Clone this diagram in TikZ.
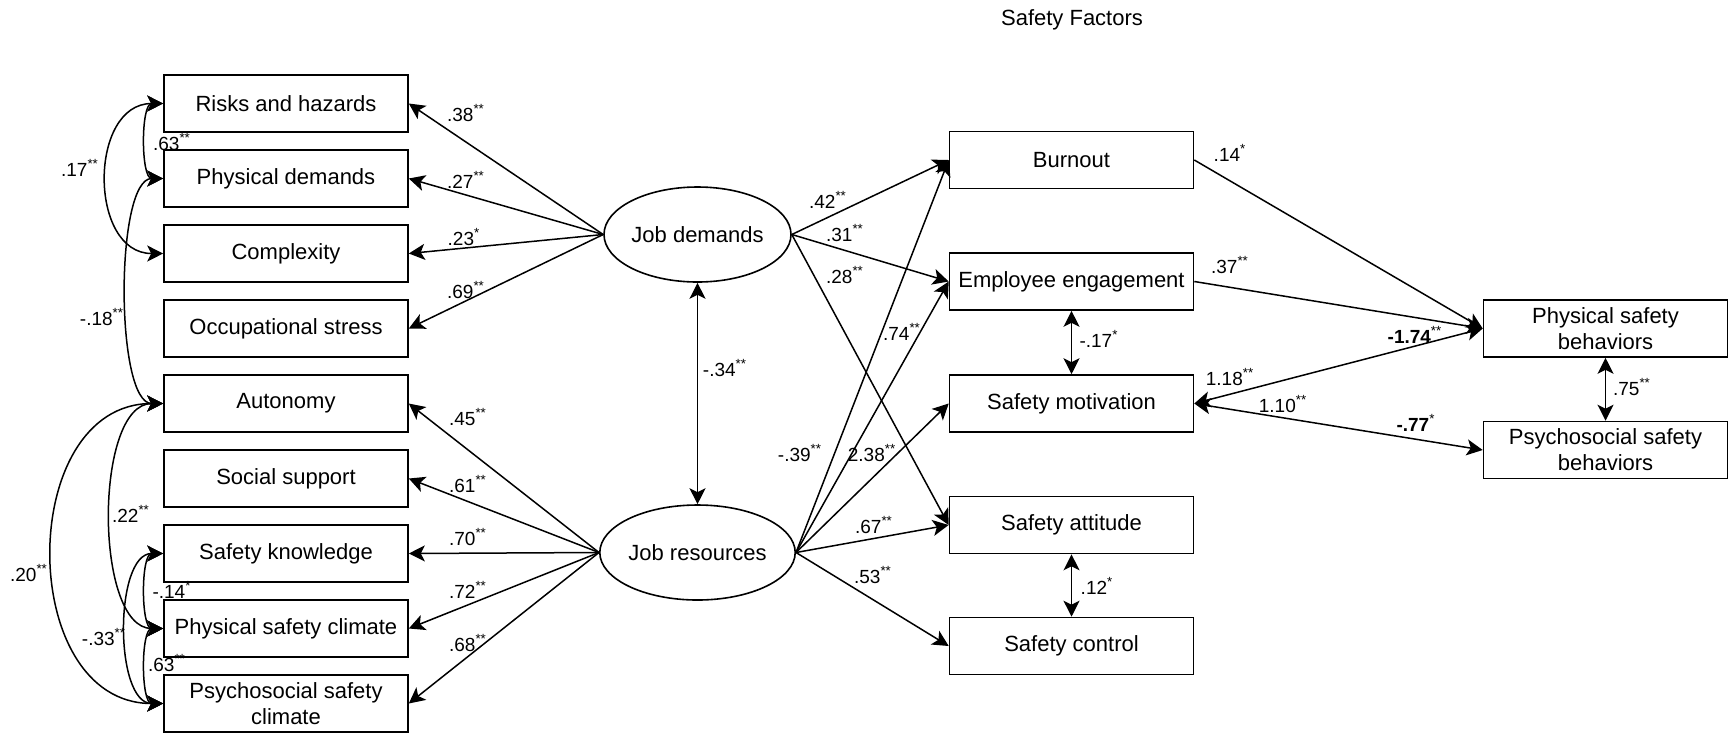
\documentclass[tikz,border=0pt]{standalone}
\usepackage{fontspec}
\setmainfont{Liberation Sans}
\usetikzlibrary{shapes.geometric,arrows.meta}
\newcommand{\onest}{\textsuperscript{*}}
\newcommand{\twost}{\textsuperscript{**}}
\tikzset{
  box/.style={draw, line width=0.8pt, minimum width=122pt, minimum height=28.5pt, inner sep=1pt, align=center, font=\fontsize{11}{13}\selectfont},
  latent/.style={draw, ellipse, line width=0.8pt, minimum width=93.5pt, minimum height=47.5pt, inner sep=0pt, font=\fontsize{11}{13}\selectfont},
  wgt/.style={inner sep=0pt, font=\fontsize{9.5}{11}\selectfont},
  arr/.style={line width=0.75pt, -{Stealth[length=8pt,width=8pt,inset=2pt]}},
  dbl/.style={line width=0.75pt, {Stealth[length=8pt,width=8pt,inset=2pt]}-{Stealth[length=8pt,width=8pt,inset=2pt]}}
}
\begin{document}
\begin{tikzpicture}[x=0.5pt,y=-0.5pt]
\useasboundingbox (0,0) rectangle (1728,735);
\node[wgt, font=\fontsize{11}{13}\selectfont] (title) at (1072,20) {Safety Factors};

% job demands indicators
\node[box] (risks) at (286,103.5) {Risks and hazards};
\node[box] (physd) at (286,178.5) {Physical demands};
\node[box] (compl) at (286,253.5) {Complexity};
\node[box] (stress) at (286,328.5) {Occupational stress};
% job resources indicators
\node[box] (auton) at (286,403.5) {Autonomy};
\node[box] (social) at (286,478.5) {Social support};
\node[box] (know) at (286,553.5) {Safety knowledge};
\node[box] (psclim) at (286,628.5) {Physical safety climate};
\node[box] (pssclim) at (286,703.5) {Psychosocial safety\\climate};

\node[latent] (jd) at (697.5,234.5) {Job demands};
\node[latent] (jr) at (697.5,552.5) {Job resources};

% safety factors
\node[box] (burn) at (1071.5,160) {Burnout};
\node[box] (engage) at (1071.5,281.5) {Employee engagement};
\node[box] (motiv) at (1071.5,403.5) {Safety motivation};
\node[box] (attit) at (1071.5,525) {Safety attitude};
\node[box] (contr) at (1071.5,646) {Safety control};

\node[box] (physb) at (1605.5,328.5) {Physical safety\\behaviors};
\node[box] (psyb) at (1605.5,450) {Psychosocial safety\\behaviors};

% loadings
\draw[arr] (jd.west) -- (risks.east);
\draw[arr] (jd.west) -- (physd.east);
\draw[arr] (jd.west) -- (compl.east);
\draw[arr] (jd.west) -- (stress.east);
\draw[arr] (jr.west) -- (auton.east);
\draw[arr] (jr.west) -- (social.east);
\draw[arr] (jr.west) -- (know.east);
\draw[arr] (jr.west) -- (psclim.east);
\draw[arr] (jr.west) -- (pssclim.east);
\node[wgt] (wRisks) at (466,113) {.38\twost};
\node[wgt] (wPhysd) at (466,180) {.27\twost};
\node[wgt] (wCompl) at (464,237) {.23\onest};
\node[wgt] (wStress) at (466,290) {.69\twost};
\node[wgt] (wAuton) at (468,417) {.45\twost};
\node[wgt] (wSocial) at (468,484) {.61\twost};
\node[wgt] (wKnow) at (468,537) {.70\twost};
\node[wgt] (wPsclim) at (468,590) {.72\twost};
\node[wgt] (wPssclim) at (468,643) {.68\twost};

% covariances between indicators
\draw[dbl] (risks.west) to[out=180,in=180,looseness=0.77] (physd.west);
\draw[dbl] (risks.west) to[out=180,in=180,looseness=1.28] (compl.west);
\draw[dbl] (physd.west) to[out=180,in=180,looseness=0.55] (auton.west);
\draw[dbl] (auton.west) to[out=180,in=180,looseness=1.26] (pssclim.west);
\draw[dbl] (auton.west) to[out=180,in=180,looseness=0.79] (psclim.west);
\draw[dbl] (know.west) to[out=180,in=180,looseness=0.77] (psclim.west);
\draw[dbl] (know.west) to[out=180,in=180,looseness=0.84] (pssclim.west);
\draw[dbl] (psclim.west) to[out=180,in=180,looseness=0.77] (pssclim.west);
\node[wgt] (cRP) at (172,142) {.63\twost};
\node[wgt] (cRC) at (80,168) {.17\twost};
\node[wgt] (cPA) at (102,317) {-.18\twost};
\node[wgt] (cAPs) at (29,573) {.20\twost};
\node[wgt] (cAPc) at (131,514) {.22\twost};
\node[wgt] (cKPc) at (172,590) {-.14\onest};
\node[wgt] (cKPs) at (104,637) {-.33\twost};
\node[wgt] (cPcPs) at (167,663) {.63\twost};

\draw[dbl] (jd.south) -- (jr.north);
\node[wgt] (cJ) at (725,368) {-.34\twost};

% structural paths
\draw[arr] (jd.east) -- (burn.west);
\draw[arr] (jd.east) -- (engage.west);
\draw[arr] (jd.east) -- (attit.west);
\draw[arr] (jr.east) -- (burn.west);
\draw[arr] (jr.east) -- (engage.west);
\draw[arr] (jr.east) -- (motiv.west);
\draw[arr] (jr.east) -- (attit.west);
\draw[arr] (jr.east) -- (contr.west);
\node[wgt] (pDB) at (828,200) {.42\twost};
\node[wgt] (pDE) at (845,233) {.31\twost};
\node[wgt] (pDA) at (845,275) {.28\twost};
\node[wgt] (pRB) at (800,453) {-.39\twost};
\node[wgt] (pRE) at (902,332) {.74\twost};
\node[wgt] (pRM) at (872,453) {2.38\twost};
\node[wgt] (pRA) at (874,525) {.67\twost};
\node[wgt] (pRC) at (873,575) {.53\twost};

\draw[dbl] (engage.south) -- (motiv.north);
\draw[dbl] (attit.south) -- (contr.north);
\node[wgt] (cEM) at (1099,339) {-.17\onest};
\node[wgt] (cAC) at (1097,586) {.12\onest};

\draw[arr] (burn.east) -- (physb.west);
\draw[arr] (engage.east) -- (physb.west);
\draw[dbl] (motiv.east) -- (physb.west);
\draw[dbl] (motiv.east) -- (psyb.west);
\draw[dbl] (physb.south) -- (psyb.north);
\node[wgt] (pBP) at (1230,153) {.14\onest};
\node[wgt] (pEP) at (1230,265) {.37\twost};
\node[wgt] (pMP) at (1230,377) {1.18\twost};
\node[wgt] (pPM) at (1415,335) {\textbf{-1.74}\twost};
\node[wgt] (pMS) at (1283,404) {1.10\twost};
\node[wgt] (pSM) at (1416,423) {\textbf{-.77}\onest};
\node[wgt] (cPS) at (1632,387) {.75\twost};
\end{tikzpicture}
\end{document}
